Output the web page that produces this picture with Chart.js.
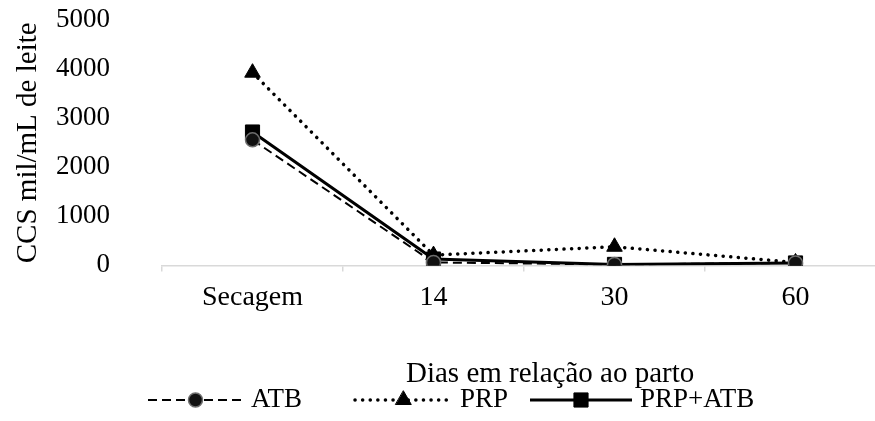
<!DOCTYPE html>
<html>
<head>
<meta charset="utf-8">
<script src="https://cdn.jsdelivr.net/npm/chart.js@4"></script>
<style>
  html, body { margin: 0; padding: 0; background: #fff; overflow: hidden; }
  #wrap { width: 900px; height: 421px; }
</style>
</head>
<body>
<div id="wrap"><canvas id="ccsChart"></canvas></div>
<script>
const categories = ['Secagem', '14', '30', '60'];
const atb = [2560, 60, 20, 50];
const prp = [3930, 210, 380, 60];
const prpAtb = [2720, 130, 20, 50];
const yTicks = [0, 1000, 2000, 3000, 4000, 5000];

const FONT = 'Liberation Serif';

// legend + x title drawn by hand, Excel style
const bottomText = {
    id: 'bottomText',
    afterDraw(chart) {
        const ctx = chart.ctx;
        ctx.save();
        ctx.fillStyle = '#000';
        ctx.font = `29px "${FONT}"`;
        ctx.textBaseline = 'middle';
        ctx.textAlign = 'left';
        ctx.fillText('Dias em relação ao parto', 406, 374);

        ctx.font = `27px "${FONT}"`;
        const items = [
            { ds: 0, x0: 148, x1: 243 },
            { ds: 1, x0: 355, x1: 452 },
            { ds: 2, x0: 530, x1: 632 }
        ];
        const y = 400;
        items.forEach(it => {
            const d = chart.data.datasets[it.ds];
            ctx.beginPath();
            ctx.setLineDash(d.borderDash || []);
            ctx.lineCap = d.borderCapStyle || 'butt';
            ctx.lineWidth = d.borderWidth;
            ctx.strokeStyle = d.borderColor;
            ctx.moveTo(it.x0, y);
            ctx.lineTo(it.x1, y);
            ctx.stroke();
            ctx.setLineDash([]);
            ctx.fillStyle = d.pointBackgroundColor;
            ctx.strokeStyle = d.pointBorderColor;
            ctx.lineWidth = d.pointBorderWidth;
            Chart.helpers.drawPoint(ctx, {
                pointStyle: d.pointStyle,
                radius: d.pointRadius,
                borderWidth: d.pointBorderWidth
            }, (it.x0 + it.x1) / 2, y);
            ctx.fillStyle = '#000';
            ctx.fillText(d.label, it.x1 + 8, y);
        });
        ctx.restore();
    }
};

new Chart(document.getElementById('ccsChart'), {
    type: 'line',
    data: {
        labels: categories,
        datasets: [
            {
                label: 'ATB',
                data: atb,
                borderColor: '#000',
                borderWidth: 2,
                borderDash: [9, 5],
                pointStyle: 'circle',
                pointRadius: 7,
                pointBackgroundColor: '#111',
                pointBorderColor: '#6e6e6e',
                pointBorderWidth: 1.5,
                tension: 0
            },
            {
                label: 'PRP',
                data: prp,
                borderColor: '#000',
                borderWidth: 3.5,
                borderDash: [0.1, 7.5],
                borderCapStyle: 'round',
                pointStyle: 'triangle',
                pointRadius: 9,
                pointBackgroundColor: '#000',
                pointBorderColor: '#000',
                pointBorderWidth: 1,
                tension: 0
            },
            {
                label: 'PRP+ATB',
                data: prpAtb,
                borderColor: '#000',
                borderWidth: 3,
                pointStyle: 'rect',
                pointRadius: 10,
                pointBackgroundColor: '#000',
                pointBorderColor: '#000',
                pointBorderWidth: 1,
                tension: 0
            }
        ]
    },
    options: {
        responsive: true,
        maintainAspectRatio: false,
        animation: false,
        layout: { padding: { top: 20, right: 14, left: 0, bottom: 98 } },
        plugins: {
            legend: { display: false },
            tooltip: { enabled: false }
        },
        scales: {
            x: {
                offset: true,
                border: { color: '#d9d9d9', width: 1.5 },
                grid: {
                    offset: true,
                    drawOnChartArea: false,
                    color: '#d9d9d9',
                    lineWidth: 1.5,
                    tickLength: 6
                },
                ticks: {
                    color: '#000',
                    font: { family: FONT, size: 28 },
                    padding: 9
                }
            },
            y: {
                min: 0,
                max: 5000,
                border: { display: false },
                // invisible tick marks push the labels away from the plot
                grid: {
                    drawOnChartArea: false,
                    color: 'rgba(0,0,0,0)',
                    tickLength: 48
                },
                afterBuildTicks(scale) {
                    scale.ticks = yTicks.map(v => ({ value: v }));
                },
                ticks: {
                    color: '#000',
                    font: { family: FONT, size: 27 },
                    padding: 4,
                    callback: v => String(v)
                },
                title: {
                    display: true,
                    text: 'CCS mil/mL de leite',
                    color: '#000',
                    font: { family: FONT, size: 29 },
                    padding: { top: 11, bottom: 0 }
                },
                afterFit(scale) { scale.width = 162; }
            }
        }
    },
    plugins: [bottomText]
});
</script>
</body>
</html>
